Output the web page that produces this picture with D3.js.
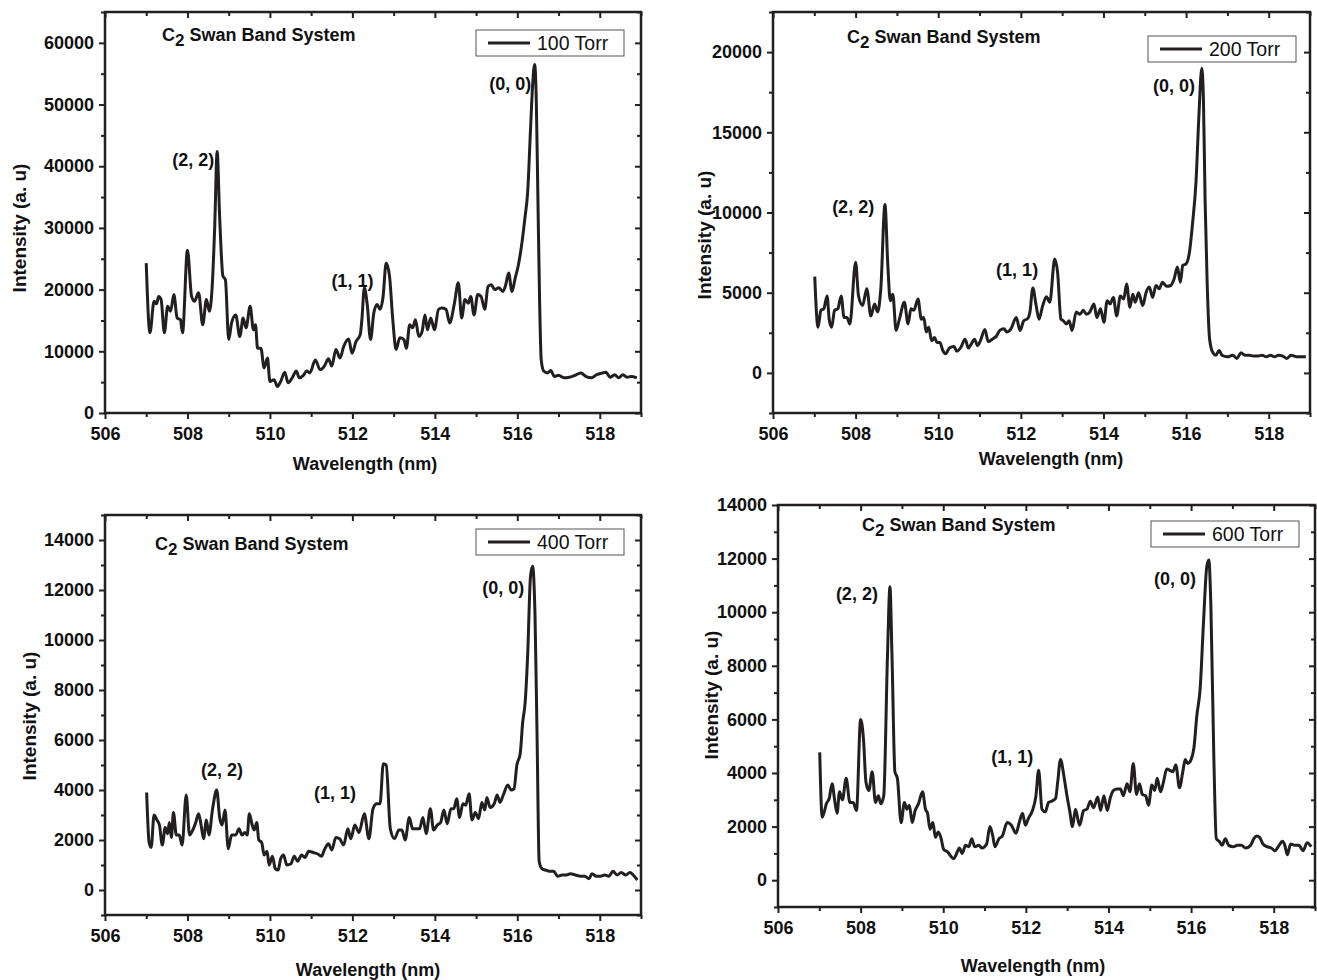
<!DOCTYPE html>
<html>
<head>
<meta charset="utf-8">
<script src="https://cdn.jsdelivr.net/npm/d3@7"></script>
<style>
  body { margin: 0; background: #fff; }
  text { font-family: "Liberation Sans", Arial, sans-serif; fill: #111; }
</style>
</head>
<body>
<svg id="chart" width="1317" height="980"></svg>
<script>
// ---- data ----
const xMajor = [506, 508, 510, 512, 514, 516, 518];
const xMinor = [507, 509, 511, 513, 515, 517, 519];

const yMajor100 = [0, 10000, 20000, 30000, 40000, 50000, 60000];
const yMinor100 = [5000, 15000, 25000, 35000, 45000, 55000, 65000];
const yMajor200 = [0, 5000, 10000, 15000, 20000];
const yMinor200 = [-2500, 2500, 7500, 12500, 17500, 22500];
const yMajor400 = [0, 2000, 4000, 6000, 8000, 10000, 12000, 14000];
const yMinor400 = [-1000, 1000, 3000, 5000, 7000, 9000, 11000, 13000, 15000];
const yMajor600 = [0, 2000, 4000, 6000, 8000, 10000, 12000, 14000];
const yMinor600 = [-1000, 1000, 3000, 5000, 7000, 9000, 11000, 13000];

const pressures = ["100 Torr", "200 Torr", "400 Torr", "600 Torr"];
const bandLabels = ["(2, 2)", "(1, 1)", "(0, 0)"];

// [wavelength nm, intensity a.u.]
const torr100 = [[507.0,24300],[507.09,13000],[507.19,18100],[507.25,17700],[507.3,18900],[507.36,18400],[507.44,13000],[507.52,17300],[507.59,16500],[507.67,19200],
 [507.75,15400],[507.83,15100],[507.88,13000],[508.0,26400],[508.1,18900],[508.17,18100],[508.27,19500],[508.37,14300],[508.46,18400],[508.53,16500],
 [508.6,20500],[508.66,30000],[508.72,42400],[508.78,31900],[508.86,22200],[508.92,21600],[509.0,11900],[509.07,14600],[509.17,15900],[509.27,12400],[509.35,15400],
 [509.42,13800],[509.52,17300],[509.6,13500],[509.65,14300],[509.7,10500],[509.78,10500],[509.86,7300],[509.94,8900],[510.0,5100],[510.1,5400],
 [510.18,4300],[510.26,5100],[510.36,6600],[510.44,4900],[510.54,5700],[510.64,6800],[510.71,5700],[510.81,6100],[510.89,6800],[510.97,6500],
 [511.1,8600],[511.22,7000],[511.32,7600],[511.42,8800],[511.5,7600],[511.6,10300],[511.7,8900],[511.79,10800],[511.91,12000],[511.99,9700],
 [512.09,11600],[512.19,12700],[512.23,15100],[512.29,20300],[512.36,17600],[512.44,11900],[512.52,16200],[512.6,17600],[512.67,16800],[512.74,18600],
 [512.82,24300],[512.9,22200],[512.98,15100],[513.06,10300],[513.15,12200],[513.25,11900],[513.31,10500],[513.39,14300],[513.46,13800],[513.53,15100],
 [513.61,12400],[513.69,13200],[513.76,15900],[513.82,13500],[513.9,15400],[513.99,13500],[514.09,16800],[514.17,17000],[514.27,16800],[514.36,14600],
 [514.47,17600],[514.57,21100],[514.65,15400],[514.73,18400],[514.81,17800],[514.87,18900],[514.95,15900],[515.04,19200],[515.12,18900],[515.21,16800],
 [515.29,20500],[515.37,20800],[515.45,20000],[515.55,20300],[515.65,19700],[515.72,20800],[515.79,22700],[515.87,19700],[515.95,21900],[516.02,23800],
 [516.1,27000],[516.19,31900],[516.25,35700],[516.32,45900],[516.37,53000],[516.42,56500],[516.46,50800],[516.5,34600],[516.54,18400],[516.58,8600],
 [516.64,6800],[516.73,6500],[516.81,6900],[516.9,5900],[517.0,6100],[517.13,5700],[517.26,5800],[517.4,6100],[517.54,6500],[517.67,5900],
 [517.8,5700],[517.92,6200],[518.02,6400],[518.15,6600],[518.25,5800],[518.36,6200],[518.46,5700],[518.56,6200],[518.66,5800],[518.76,5900],[518.9,5700]];

const torr200 = [[507.01,6000],[507.09,2850],[507.16,3900],[507.23,4000],[507.31,4800],[507.36,3350],[507.42,2850],[507.49,3900],[507.57,4000],[507.65,4800],
 [507.72,3450],[507.79,3450],[507.86,3050],[508.0,6900],[508.07,4800],[508.17,4200],[508.27,5250],[508.37,3550],[508.46,4300],[508.53,3800],
 [508.61,5250],[508.71,10500],[508.78,6700],[508.84,4500],[508.9,4900],[508.98,2650],[509.06,3350],[509.18,4400],[509.27,3050],[509.34,4000],
 [509.41,3900],[509.51,4600],[509.59,3350],[509.65,3450],[509.71,2550],[509.77,2850],[509.84,2000],[509.91,2200],[509.97,1900],[510.04,1900],
 [510.11,1400],[510.18,1200],[510.27,1550],[510.38,1650],[510.45,1350],[510.55,1600],[510.65,2100],[510.73,1550],[510.8,1800],[510.88,2100],
 [510.95,1700],[511.02,2000],[511.13,2700],[511.21,1950],[511.31,2100],[511.41,2300],[511.49,2650],[511.59,2750],[511.66,2550],[511.76,2750],
 [511.89,3450],[511.98,2650],[512.07,3250],[512.17,3400],[512.22,3800],[512.29,5300],[512.37,4200],[512.44,3350],[512.52,4100],[512.62,4750],
 [512.7,4400],[512.82,7100],[512.89,6250],[512.97,3350],[513.03,3250],[513.1,3050],[513.17,3250],[513.24,2650],[513.34,3800],[513.43,3650],
 [513.51,3900],[513.59,3650],[513.67,3800],[513.77,4300],[513.84,3450],[513.93,4000],[514.01,3150],[514.09,4500],[514.16,4300],[514.24,4700],
 [514.32,3550],[514.41,4800],[514.49,4600],[514.56,5550],[514.64,4100],[514.71,4900],[514.77,4400],[514.85,5000],[514.95,4200],[515.03,5000],
 [515.11,5350],[515.19,4700],[515.27,5450],[515.35,5250],[515.43,5650],[515.53,5400],[515.63,5450],[515.71,5850],[515.79,6600],[515.86,5650],
 [515.92,6700],[516.0,6800],[516.08,7500],[516.16,9400],[516.24,11900],[516.31,16000],[516.38,19000],[516.42,17050],[516.46,10800],[516.51,5650],
 [516.57,2100],[516.65,1250],[516.72,1100],[516.8,1400],[516.87,1100],[517.0,1000],[517.13,1100],[517.23,900],[517.33,1250],[517.43,1100],
 [517.53,1100],[517.63,1050],[517.74,1050],[517.84,1100],[517.94,1000],[518.04,1100],[518.14,1000],[518.24,1100],[518.34,1050],[518.44,900],
 [518.54,1100],[518.7,1000],[518.9,1000]];

const torr400 = [[507.01,3900],[507.07,1900],[507.12,1700],[507.19,3000],[507.26,2800],[507.32,2600],[507.39,1800],[507.46,2500],[507.52,2250],[507.56,2700],
 [507.61,2100],[507.66,3100],[507.73,2200],[507.8,2200],[507.87,1800],[507.97,3800],[508.05,2200],[508.13,2400],[508.2,2700],[508.27,3050],
 [508.33,2600],[508.39,2050],[508.46,2800],[508.52,2200],[508.61,3250],[508.71,4000],[508.78,2900],[508.84,2600],[508.91,3200],[508.99,1650],
 [509.07,2200],[509.17,2200],[509.25,2450],[509.32,2200],[509.39,2300],[509.45,2200],[509.5,3050],[509.57,2600],[509.62,2400],[509.68,2700],
 [509.73,2000],[509.8,1900],[509.86,1400],[509.93,1550],[509.98,1000],[510.06,1350],[510.13,850],[510.2,800],[510.26,1250],[510.33,1400],
 [510.41,1000],[510.51,1050],[510.59,1350],[510.67,1150],[510.77,1400],[510.85,1300],[510.94,1550],[511.05,1500],[511.15,1450],[511.25,1350],
 [511.32,1600],[511.42,1850],[511.5,1600],[511.6,2100],[511.69,2050],[511.79,1800],[511.89,2450],[511.96,2050],[512.06,2600],[512.16,2300],
 [512.29,3050],[512.4,2050],[512.5,3250],[512.59,3450],[512.67,3450],[512.75,5050],[512.82,5000],[512.92,2450],[513.02,2050],[513.13,2400],
 [513.2,2400],[513.28,2000],[513.38,2900],[513.46,2450],[513.53,2450],[513.63,2450],[513.71,2900],[513.79,2250],[513.89,3250],[513.97,2400],
 [514.06,2600],[514.14,2700],[514.22,3200],[514.3,2650],[514.39,3250],[514.46,3250],[514.53,3650],[514.6,2900],[514.68,3450],[514.75,3400],
 [514.83,3850],[514.9,2800],[514.98,3100],[515.06,2850],[515.14,3500],[515.21,3200],[515.26,3700],[515.34,3300],[515.44,3450],[515.51,3800],
 [515.58,3500],[515.66,3800],[515.77,4200],[515.85,4000],[515.92,4050],[515.99,5000],[516.07,5450],[516.13,6700],[516.19,7500],[516.25,9350],
 [516.32,12550],[516.37,12950],[516.43,10950],[516.48,6050],[516.53,1150],[516.6,850],[516.68,800],[516.78,750],[516.88,750],[516.98,550],
 [517.09,600],[517.19,600],[517.29,650],[517.41,600],[517.54,550],[517.64,550],[517.74,450],[517.81,650],[517.92,550],[518.02,550],
 [518.12,600],[518.22,550],[518.32,750],[518.42,600],[518.52,700],[518.63,600],[518.73,700],[518.81,600],[518.91,400]];

const torr600 = [[507.01,4770],[507.07,2350],[507.12,2550],[507.17,2850],[507.24,3050],[507.31,3600],[507.37,3000],[507.43,2500],[507.49,3300],[507.56,3000],
 [507.65,3800],[507.74,2900],[507.82,2900],[507.9,2600],[508.0,6000],[508.07,5250],[508.13,3650],[508.2,3350],[508.28,4050],[508.36,2900],
 [508.43,3150],[508.49,2850],[508.56,3150],[508.65,8350],[508.71,10950],[508.76,8350],[508.83,4050],[508.89,3800],[508.98,2150],[509.06,2900],
 [509.12,2650],[509.18,2800],[509.25,2150],[509.32,2600],[509.4,2850],[509.5,3300],[509.57,2650],[509.62,2500],[509.68,1900],[509.75,2150],
 [509.81,1600],[509.88,1800],[509.95,1550],[510.01,1150],[510.11,1050],[510.18,900],[510.25,800],[510.34,1050],[510.39,1200],[510.46,1000],
 [510.54,1300],[510.62,1250],[510.69,1550],[510.76,1250],[510.86,1300],[510.94,1200],[511.05,1350],[511.13,2000],[511.2,1650],[511.25,1250],
 [511.35,1550],[511.43,1650],[511.55,2150],[511.65,2050],[511.76,1750],[511.84,2150],[511.92,2500],[511.99,2050],[512.06,2300],[512.16,2600],
 [512.24,3100],[512.31,4100],[512.39,2650],[512.47,2550],[512.55,2900],[512.63,2950],[512.72,3050],[512.77,3650],[512.84,4500],[512.92,3900],
 [512.99,3200],[513.06,2600],[513.13,2000],[513.2,2650],[513.3,2050],[513.4,2600],[513.48,2650],[513.56,2950],[513.64,2700],[513.74,3100],
 [513.81,2600],[513.89,3150],[513.97,2600],[514.04,3050],[514.12,3350],[514.21,3400],[514.29,3400],[514.36,3150],[514.45,3600],[514.52,3300],
 [514.6,4350],[514.68,3200],[514.75,3600],[514.82,3200],[514.9,3150],[514.97,2800],[515.05,3550],[515.12,3350],[515.18,3800],[515.26,3300],
 [515.33,3650],[515.41,4150],[515.49,4100],[515.56,4050],[515.63,4300],[515.72,3450],[515.8,4050],[515.86,4500],[515.92,4350],[516.0,4500],
 [516.07,4950],[516.14,6150],[516.22,7150],[516.3,9600],[516.38,11700],[516.43,11950],[516.48,10200],[516.55,4650],[516.61,1550],[516.68,1450],
 [516.75,1300],[516.83,1550],[516.91,1300],[517.02,1250],[517.12,1300],[517.22,1300],[517.32,1200],[517.44,1300],[517.52,1550],[517.59,1650],
 [517.66,1600],[517.74,1350],[517.84,1250],[517.94,1200],[518.03,1100],[518.13,1300],[518.21,1450],[518.27,1300],[518.33,950],[518.41,1350],
 [518.51,1300],[518.61,1300],[518.71,1100],[518.81,1400],[518.91,1250]];

// band-label anchor points [wavelength, intensity] for (2,2), (1,1), (0,0)
const labelPos100 = [[508.14, 40000], [512.0, 20400], [515.83, 52300]];
const labelPos200 = [[507.94, 9940], [511.91, 6060], [515.71, 17500]];
const labelPos400 = [[508.84, 4550], [511.58, 3630], [515.66, 11850]];
const labelPos600 = [[507.91, 10440], [511.67, 4360], [515.61, 11000]];

// ---- layout ----
const panels = [
  { data: torr100, name: pressures[0], left: 105, top: 12, w: 536, h: 401, yDom: [0, 65000],
    yMajor: yMajor100, yMinor: yMinor100, labels: labelPos100,
    title: [57, 29], legend: [17, 18], xTitle: [365, 470], yTitle: [26, 228] },
  { data: torr200, name: pressures[1], left: 773, top: 12, w: 537, h: 401, yDom: [-2500, 22500],
    yMajor: yMajor200, yMinor: yMinor200, labels: labelPos200,
    title: [74, 31], legend: [14, 24], xTitle: [1051, 465], yTitle: [711, 235] },
  { data: torr400, name: pressures[2], left: 105, top: 515, w: 536, h: 400, yDom: [-1000, 15000],
    yMajor: yMajor400, yMinor: yMinor400, labels: labelPos400,
    title: [50, 35], legend: [17, 14], xTitle: [368, 976], yTitle: [36, 716] },
  { data: torr600, name: pressures[3], left: 778, top: 505, w: 537, h: 402, yDom: [-1000, 14000],
    yMajor: yMajor600, yMinor: yMinor600, labels: labelPos600,
    title: [84, 26], legend: [16, 16], xTitle: [1033, 972], yTitle: [718, 695] }
];

const svg = d3.select("#chart");
const ink = "#231f20";

panels.forEach(function(p) {
  const g = svg.append("g").attr("transform", "translate(" + p.left + "," + p.top + ")");
  const x = d3.scaleLinear().domain([506, 519]).range([0, p.w]);
  const y = d3.scaleLinear().domain(p.yDom).range([p.h, 0]);

  function styleAxis(sel) {
    sel.select(".domain").remove();
    sel.selectAll(".tick line").attr("stroke", ink).attr("stroke-width", 2);
    sel.selectAll(".tick text").attr("font-size", 18).attr("font-weight", "bold")
      .style("fill", "#111");
  }

  // bottom & left: outward ticks with labels
  g.append("g").attr("transform", "translate(0," + p.h + ")")
    .call(d3.axisBottom(x).tickValues(xMajor).tickSize(6).tickPadding(8).tickFormat(d3.format("d")))
    .call(styleAxis);
  g.append("g").attr("transform", "translate(0," + p.h + ")")
    .call(d3.axisBottom(x).tickValues(xMinor).tickSize(4).tickFormat(""))
    .call(styleAxis);
  g.append("g")
    .call(d3.axisLeft(y).tickValues(p.yMajor).tickSize(6).tickPadding(5).tickFormat(d3.format("d")))
    .call(styleAxis);
  g.append("g")
    .call(d3.axisLeft(y).tickValues(p.yMinor).tickSize(4).tickFormat(""))
    .call(styleAxis);

  // top & right: inward ticks, no labels
  g.append("g").call(d3.axisTop(x).tickValues(xMajor).tickSize(-6).tickFormat("")).call(styleAxis);
  g.append("g").call(d3.axisTop(x).tickValues(xMinor).tickSize(-4).tickFormat("")).call(styleAxis);
  g.append("g").attr("transform", "translate(" + p.w + ",0)")
    .call(d3.axisRight(y).tickValues(p.yMajor).tickSize(-6).tickFormat("")).call(styleAxis);
  g.append("g").attr("transform", "translate(" + p.w + ",0)")
    .call(d3.axisRight(y).tickValues(p.yMinor).tickSize(-4).tickFormat("")).call(styleAxis);

  // frame
  g.append("rect").attr("width", p.w).attr("height", p.h)
    .attr("fill", "none").attr("stroke", ink).attr("stroke-width", 2.5);

  // spectrum
  const line = d3.line()
    .x(function(d) { return x(d[0]); })
    .y(function(d) { return y(d[1]); })
    .curve(d3.curveMonotoneX);
  g.append("path").datum(p.data)
    .attr("d", line)
    .attr("fill", "none")
    .attr("stroke", ink)
    .attr("stroke-width", 3)
    .attr("stroke-linejoin", "round");

  // band labels
  g.selectAll(".band").data(p.labels).enter().append("text")
    .attr("class", "band")
    .attr("x", function(d) { return x(d[0]); })
    .attr("y", function(d) { return y(d[1]); })
    .attr("text-anchor", "middle")
    .attr("font-size", 18).attr("font-weight", "bold")
    .text(function(d, i) { return bandLabels[i]; });

  // C2 Swan Band System
  const t = g.append("text").attr("x", p.title[0]).attr("y", p.title[1])
    .attr("font-size", 18).attr("font-weight", "bold");
  t.append("tspan").text("C");
  t.append("tspan").attr("dy", 5).attr("font-size", 17).text("2");
  t.append("tspan").attr("dy", -5).text(" Swan Band System");

  // legend
  const lw = 148, lh = 26;
  const lg = g.append("g").attr("transform", "translate(" + (p.w - p.legend[0] - lw) + "," + p.legend[1] + ")");
  lg.append("rect").attr("width", lw).attr("height", lh)
    .attr("fill", "#fff").attr("stroke", "#555").attr("stroke-width", 1);
  lg.append("line").attr("x1", 12).attr("x2", 54).attr("y1", lh / 2).attr("y2", lh / 2)
    .attr("stroke", ink).attr("stroke-width", 3);
  lg.append("text").attr("x", 61).attr("y", lh / 2 + 7)
    .attr("font-size", 19.5).text(p.name);

  // axis titles (absolute coords)
  svg.append("text").attr("x", p.xTitle[0]).attr("y", p.xTitle[1])
    .attr("text-anchor", "middle").attr("font-size", 18).attr("font-weight", "bold")
    .text("Wavelength (nm)");
  svg.append("text")
    .attr("transform", "translate(" + p.yTitle[0] + "," + p.yTitle[1] + ") rotate(-90)")
    .attr("text-anchor", "middle").attr("font-size", 19).attr("font-weight", "bold")
    .text("Intensity (a. u)");
});
</script>
</body>
</html>
